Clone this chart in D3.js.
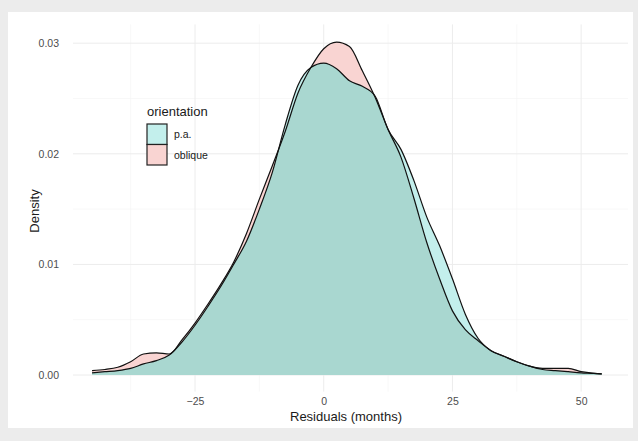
<!DOCTYPE html>
<html>
<head>
<meta charset="utf-8">
<script src="https://cdn.jsdelivr.net/npm/d3@7"></script>
<style>
  body { margin: 0; background: #ececec; }
  text { font-family: "Liberation Sans", Arial, sans-serif; }
</style>
</head>
<body>
<div id="chart"></div>
<script>
// residual grid (months) and density estimates
const residuals = [-45, -42.5, -40, -37.5, -35, -32.5, -30, -27.5, -25, -22.5, -20, -17.5, -15, -12.5, -10, -7.5, -5, -2.5,
  0, 2.5, 5, 7.5, 10, 12.5, 15, 17.5, 20, 22.5, 25, 27.5, 30, 32.5, 35, 37.5, 40, 42.5, 45, 47.5, 50, 52.5, 54];
const densityPA = [0.0002, 0.0003, 0.0004, 0.0006, 0.0010, 0.0013, 0.0018, 0.0030, 0.0045, 0.0062, 0.0080, 0.0100, 0.0121, 0.0150, 0.0183, 0.0226, 0.0262, 0.0278,
  0.0282, 0.0277, 0.0266, 0.0261, 0.0252, 0.0222, 0.0204, 0.0176, 0.0143, 0.0117, 0.0087, 0.0055, 0.0033, 0.0022, 0.0017, 0.0012, 0.0008, 0.0005, 0.0004, 0.0003, 0.0002, 0.00015, 0.0001];
const densityOblique = [0.0004, 0.0005, 0.0007, 0.0012, 0.0019, 0.0020, 0.0019, 0.0032, 0.0047, 0.0064, 0.0082, 0.0102, 0.0128, 0.0159, 0.0189, 0.0220, 0.0255, 0.0278,
  0.0295, 0.0301, 0.0297, 0.0275, 0.0251, 0.0222, 0.0197, 0.0160, 0.0120, 0.0087, 0.0058, 0.0041, 0.0031, 0.0022, 0.0017, 0.0012, 0.0008, 0.0006, 0.0006, 0.0006, 0.0003, 0.00015, 0.0001];
const xTicks = [-25, 0, 25, 50];
const yTicks = [0, 0.01, 0.02, 0.03];
const groups = ["p.a.", "oblique"];

const width = 638, height = 441;
const colPA = "#c3efec", colOb = "#f9d4d2", colBoth = "#a9d7d0";

const svg = d3.select("#chart").append("svg")
  .attr("width", width)
  .attr("height", height);

// white plot background inside grey frame
svg.append("rect")
  .attr("x", 8).attr("y", 12)
  .attr("width", 625).attr("height", 416)
  .attr("fill", "#ffffff");

const x = d3.scaleLinear().domain([-48.7, 59.1]).range([73, 628]);
const y = d3.scaleLinear().domain([-0.0015, 0.0317]).range([391.6, 24.4]);

// grid
const grid = svg.append("g");
const xMinor = [-37.5, -12.5, 12.5, 37.5];
const yMinor = [0.005, 0.015, 0.025];
grid.selectAll(".xmin").data(xMinor).join("line")
  .attr("x1", d => x(d)).attr("x2", d => x(d))
  .attr("y1", y.range()[0]).attr("y2", y.range()[1])
  .attr("stroke", "#f4f4f4").attr("stroke-width", 0.6);
grid.selectAll(".ymin").data(yMinor).join("line")
  .attr("x1", x.range()[0]).attr("x2", x.range()[1])
  .attr("y1", d => y(d)).attr("y2", d => y(d))
  .attr("stroke", "#f4f4f4").attr("stroke-width", 0.6);
grid.selectAll(".xmaj").data(xTicks).join("line")
  .attr("x1", d => x(d)).attr("x2", d => x(d))
  .attr("y1", y.range()[0]).attr("y2", y.range()[1])
  .attr("stroke", "#ececec").attr("stroke-width", 1);
grid.selectAll(".ymaj").data(yTicks).join("line")
  .attr("x1", x.range()[0]).attr("x2", x.range()[1])
  .attr("y1", d => y(d)).attr("y2", d => y(d))
  .attr("stroke", "#ececec").attr("stroke-width", 1);

const pa = residuals.map((r, i) => [r, densityPA[i]]);
const ob = residuals.map((r, i) => [r, densityOblique[i]]);

const area = d3.area()
  .x(d => x(d[0]))
  .y0(y(0))
  .y1(d => y(d[1]))
  .curve(d3.curveMonotoneX);
const line = d3.line()
  .x(d => x(d[0]))
  .y(d => y(d[1]))
  .curve(d3.curveMonotoneX);

svg.append("defs").append("clipPath")
  .attr("id", "clip-ob")
  .append("path")
  .attr("d", area(ob));

svg.append("path").attr("d", area(ob)).attr("fill", colOb);
svg.append("path").attr("d", area(pa)).attr("fill", colPA);
svg.append("path").attr("d", area(pa)).attr("fill", colBoth).attr("clip-path", "url(#clip-ob)");

svg.append("path").attr("d", line(ob))
  .attr("fill", "none").attr("stroke", "#111").attr("stroke-width", 1.2);
svg.append("path").attr("d", line(pa))
  .attr("fill", "none").attr("stroke", "#111").attr("stroke-width", 1.2);

// axes (labels only, like theme_minimal)
const xAxis = svg.append("g")
  .attr("transform", `translate(0,${y.range()[0]})`)
  .call(d3.axisBottom(x).tickValues(xTicks).tickSize(0).tickPadding(6).tickFormat(d3.format("d")));
const yAxis = svg.append("g")
  .attr("transform", `translate(${x.range()[0]},0)`)
  .call(d3.axisLeft(y).tickValues(yTicks).tickSize(0).tickPadding(14).tickFormat(d3.format(".2f")));
[xAxis, yAxis].forEach(a => {
  a.select(".domain").remove();
  a.selectAll("text")
    .attr("fill", "#4d4d4d")
    .style("font-size", "10.5px")
    .style("font-family", "'Liberation Sans', Arial, sans-serif");
});

svg.append("text")
  .attr("x", 346).attr("y", 421)
  .attr("text-anchor", "middle")
  .attr("fill", "#1a1a1a")
  .style("font-size", "13px")
  .text("Residuals (months)");

svg.append("text")
  .attr("transform", "translate(39,211) rotate(-90)")
  .attr("text-anchor", "middle")
  .attr("fill", "#1a1a1a")
  .style("font-size", "13px")
  .text("Density");

// legend
const legend = svg.append("g").attr("transform", "translate(147,0)");
legend.append("text")
  .attr("x", 0).attr("y", 116)
  .attr("fill", "#1a1a1a")
  .style("font-size", "13px")
  .text("orientation");
const keys = legend.selectAll(".key").data(groups).join("g")
  .attr("transform", (d, i) => `translate(0,${124 + i * 20.5})`);
keys.append("rect")
  .attr("width", 20).attr("height", 20.5)
  .attr("fill", d => d === "p.a." ? colPA : colOb)
  .attr("stroke", "#222").attr("stroke-width", 1.2);
keys.append("text")
  .attr("x", 27).attr("y", 14)
  .attr("fill", "#1a1a1a")
  .style("font-size", "10.5px")
  .text(d => d);
</script>
</body>
</html>
